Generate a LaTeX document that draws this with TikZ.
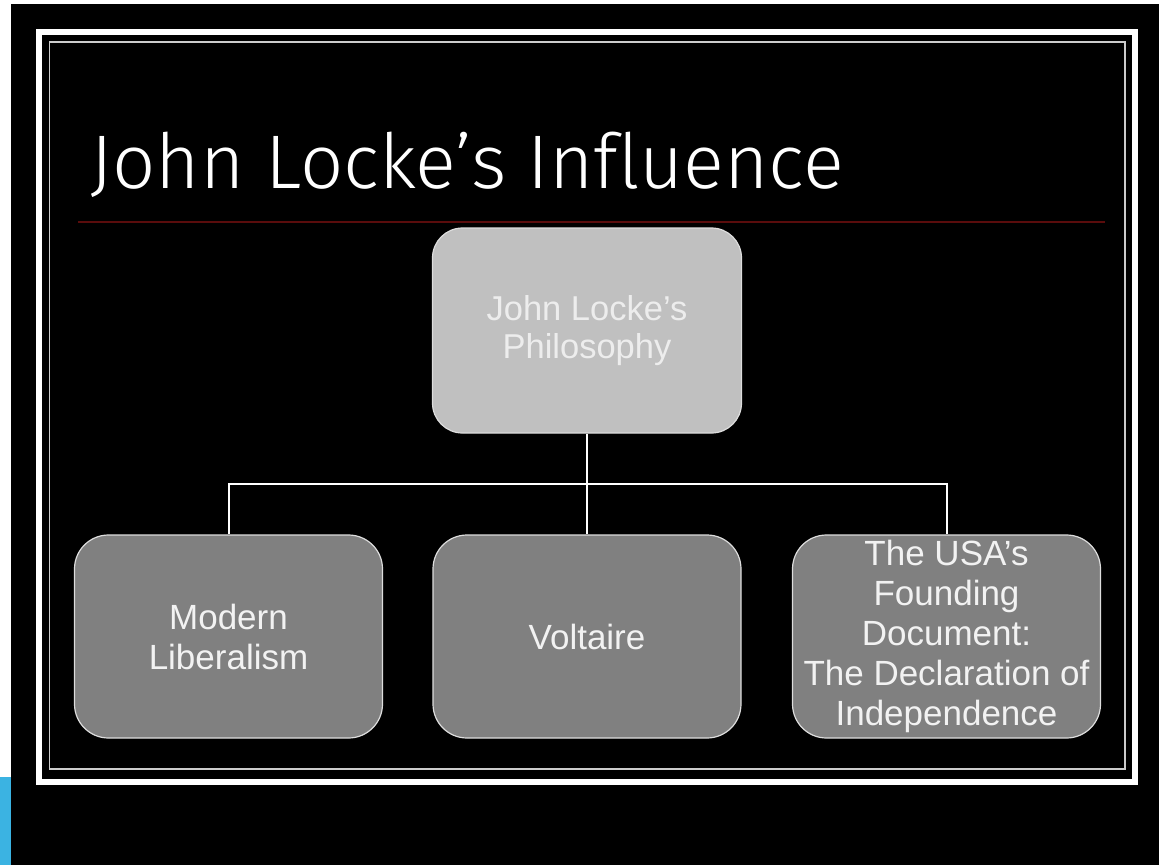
\documentclass[tikz,border=0pt]{standalone}
\usepackage{fontspec}
\setmainfont{Liberation Sans}
\newfontfamily\ttlfont{Fira Sans}[UprightFont={* Light}, Ligatures=NoCommon]
\definecolor{blueband}{HTML}{3BB3E2}
\definecolor{redrule}{HTML}{5A0C0C}
\definecolor{topfill}{HTML}{C0C0C0}
\definecolor{botfill}{HTML}{808080}
\definecolor{boxedge}{HTML}{DDDDDD}
\tikzset{
  x=1pt, y=-1pt,
  topbox/.style={draw=boxedge, line width=1.2pt, fill=topfill, rounded corners=30pt,
    minimum width=309pt, minimum height=205pt, align=center, inner sep=0pt,
    text=white!93!black, font=\fontsize{34.5}{38}\selectfont},
  botbox/.style={draw=boxedge, line width=1.2pt, fill=botfill, rounded corners=34pt,
    minimum width=308pt, minimum height=203pt, align=center, inner sep=0pt,
    text=white!95!black, font=\fontsize{35}{40}\selectfont},
  link/.style={draw=white, line width=2pt}
}
\begin{document}
\begin{tikzpicture}
\useasboundingbox (0,0) rectangle (1159,865);
\fill[white] (0,0) rectangle (1159,865);
\fill[blueband] (0,777) rectangle (11,865);
\fill[black] (11,4) rectangle (1159,865);
% frames
\draw[white, line width=6pt] (39,32) rectangle (1135,782);
\draw[white!80!black, line width=1.5pt] (49.5,42) rectangle (1125,769);
% title
\node[anchor=base west, inner sep=0pt, text=white, font=\ttlfont\fontsize{76}{80}\selectfont] (title) at (90,188) {John Locke’s Influence};
\draw[redrule, line width=2pt] (78,222) -- (1105,222);
% boxes
\node[topbox] (top) at (587,330.5) {John Locke’s\\Philosophy};
\node[botbox] (b1) at (228.5,636.5) {Modern\\Liberalism};
\node[botbox] (b2) at (587,636.5) {Voltaire};
\node[botbox] (b3) at (946.5,636.5) {The USA’s\\Founding\\Document:\\The Declaration of\\Independence};
% connectors
\coordinate (j) at (587,484);
\draw[link] (top.south) -- (j);
\draw[link] (j) -| (b1.north);
\draw[link] (j) -| (b3.north);
\draw[link] (j) -- (b2.north);
\end{tikzpicture}
\end{document}
